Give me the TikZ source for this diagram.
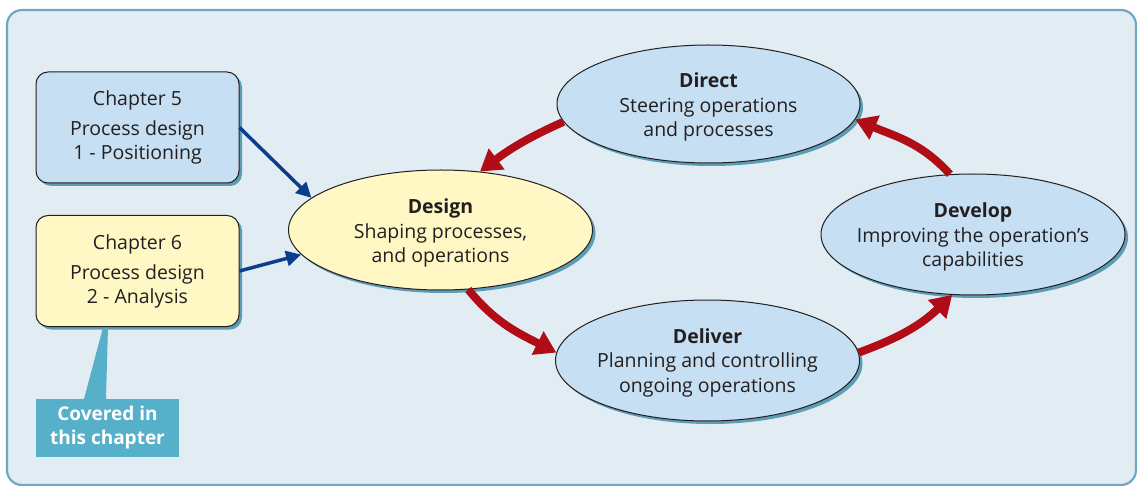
\documentclass[tikz,border=0pt]{standalone}
\usepackage{fontspec}
\setmainfont{Open Sans}
\usetikzlibrary{arrows.meta,shapes.geometric,shadows}
\definecolor{bgc}{HTML}{E1ECF3}
\definecolor{framec}{HTML}{6FA8C2}
\definecolor{lblue}{HTML}{C6DFF2}
\definecolor{lyellow}{HTML}{FFF8C4}
\definecolor{shadc}{HTML}{5C9CB5}
\definecolor{redc}{HTML}{B00D17}
\definecolor{bluec}{HTML}{0B3D8C}
\definecolor{callc}{HTML}{56B0C9}
\definecolor{txtc}{HTML}{231F20}
\tikzset{
  shad/.style={drop shadow={shadow xshift=3pt,shadow yshift=-3pt,fill=shadc,opacity=1}},
  chbox/.style={draw=txtc,line width=1pt,rounded corners=12pt,minimum width=203pt,minimum height=111pt,
     align=center,text=txtc,shad,font=\fontsize{19.5}{24}\selectfont},
  ell/.style={ellipse,draw=txtc,line width=1pt,minimum width=304pt,minimum height=120pt,shad,inner sep=0pt},
  elltxt/.style={align=center,text=txtc,inner sep=0pt,font=\fontsize{19.5}{24.5}\selectfont},
  redarrow/.style={draw=redc,line width=8pt,-{Triangle[length=21pt,width=25pt]}},
  bluearrow/.style={draw=bluec,line width=3.5pt,-{Triangle[length=15pt,width=15pt]}},
}
\begin{document}
\begin{tikzpicture}[x=1pt,y=-1pt]
\useasboundingbox (0,0) rectangle (1137,486);
\draw[fill=bgc,draw=framec,line width=2.2pt,rounded corners=15pt] (7,10) rectangle (1136,485);

\node[chbox,fill=lblue] (ch5) at (137.5,127.5) {Chapter 5\\[6pt]Process design\\1 - Positioning};
\node[chbox,fill=lyellow] (ch6) at (137.5,271) {Chapter 6\\[6pt]Process design\\2 - Analysis};

\fill[callc] (84,399) -- (106,399) -- (108,327.5) -- (103,327.5) -- cycle;
\node[fill=callc,minimum width=143pt,minimum height=58pt,inner sep=0pt,text=white,align=center,
  font=\bfseries\fontsize{19}{24}\selectfont] (cov) at (107.5,428) {Covered in\\this chapter};

\node[ell,fill=lyellow] (design) at (440.5,230) {};
\node[elltxt] (designtxt) at (440.5,233) {\textbf{Design}\\Shaping processes,\\and operations};
\node[ell,fill=lblue,minimum height=118pt,minimum width=303pt] (direct) at (708.5,104) {};
\node[elltxt] (directtxt) at (708.5,107) {\textbf{Direct}\\Steering operations\\and processes};
\node[ell,fill=lblue,minimum height=121pt] (deliver) at (707.5,360.5) {};
\node[elltxt] (delivertxt) at (707.5,362.5) {\textbf{Deliver}\\Planning and controlling\\ongoing operations};
\node[ell,fill=lblue,minimum height=121pt] (develop) at (973,234.5) {};
\node[elltxt] (developtxt) at (973,237) {\textbf{Develop}\\Improving the operation's\\capabilities};

\draw[bluearrow] (ch5.east) -- (design.166);
\draw[bluearrow] (ch6.east) -- (design.190);

\draw[redarrow] (direct.187) to[out=204,in=37] (design.56);
\draw[redarrow] (design.295) to[out=-51,in=153] (deliver.177);
\draw[redarrow] (deliver.3) to[out=20,in=224] (develop.251);
\draw[redarrow] (develop.111) to[out=132,in=-23] (direct.354);
\end{tikzpicture}
\end{document}
